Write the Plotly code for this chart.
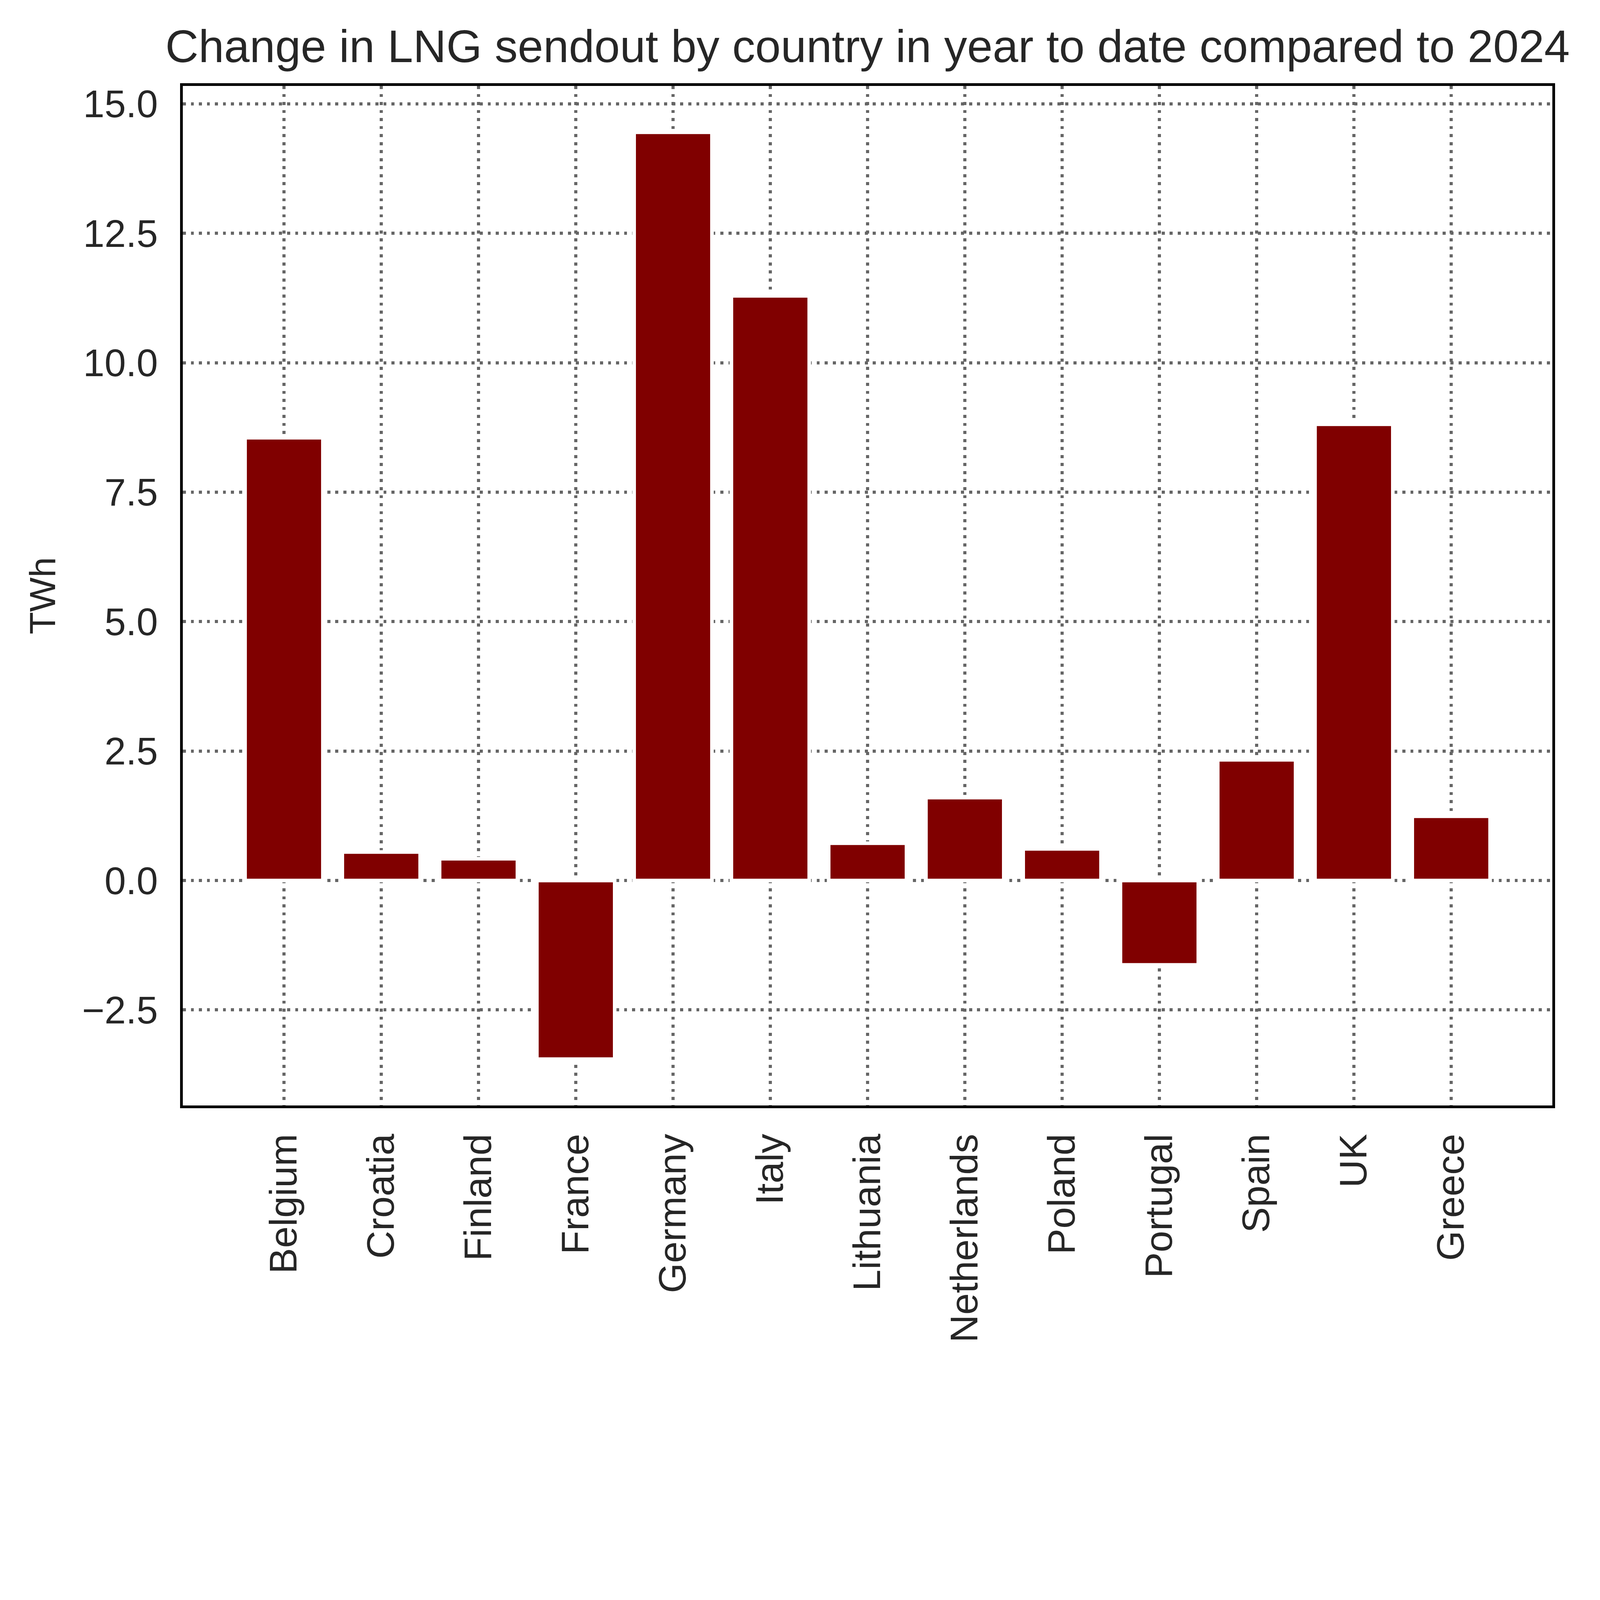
import plotly.graph_objects as go

countries = ["Belgium", "Croatia", "Finland", "France", "Germany", "Italy",
             "Lithuania", "Netherlands", "Poland", "Portugal", "Spain", "UK", "Greece"]
change_twh = [8.55, 0.55, 0.42, -3.45, 14.45, 11.29, 0.72, 1.60, 0.61, -1.63, 2.33, 8.81, 1.24]

y_tick_vals = [-2.5, 0.0, 2.5, 5.0, 7.5, 10.0, 12.5, 15.0]
y_tick_text = ["\u22122.5", "0.0", "2.5", "5.0", "7.5", "10.0", "12.5", "15.0"]

title_text = "Change in LNG sendout by country in year to date compared to 2024"
y_title = "TWh"

# The browser viewport is capped at 4096x4096, so the 5782x4947 design is scaled
# uniformly to fit inside it.
DESIGN_W, DESIGN_H = 5782, 4947
S = 4096 / DESIGN_W


def px(v):
    return v * S


def ipx(v):
    return int(round(v * S))


ymin, ymax = min(change_twh), max(change_twh)
span = ymax - ymin
y_range = [ymin - 0.05 * span, ymax + 0.05 * span]
n = len(countries)
x_span = (n - 1) + 0.8
x_range = [-0.4 - 0.05 * x_span, (n - 1) + 0.4 + 0.05 * x_span]

FONT = "Liberation Sans, Arial, Helvetica, sans-serif"
TXT = "#262626"

fig = go.Figure(go.Bar(
    x=countries, y=change_twh, width=0.8,
    marker=dict(color="#800000", line=dict(color="white", width=px(13))),
))

grid_common = dict(
    showgrid=True, gridcolor="#666666", gridwidth=px(11),
    griddash=f"{px(11):.2f}px,{px(18):.2f}px",
    showline=True, mirror=True, linecolor="black", linewidth=px(10),
    ticks="", zeroline=False,
)

fig.update_layout(
    width=ipx(DESIGN_W), height=ipx(DESIGN_H), autosize=False,
    margin=dict(l=px(661), r=px(172), t=px(310), b=px(952), pad=0),
    paper_bgcolor="white", plot_bgcolor="white",
    showlegend=False,
    font=dict(family=FONT, color=TXT, size=px(138)),
    title=dict(text=title_text, x=0.5, xref="paper", xanchor="center",
               y=1 - 166 / DESIGN_H, yref="container", yanchor="middle",
               font=dict(family=FONT, size=px(166), color=TXT)),
    xaxis=dict(type="category", range=x_range, tickangle=-90,
               tickfont=dict(family=FONT, size=px(140), color=TXT),
               ticklabelstandoff=ipx(37), **grid_common),
    yaxis=dict(range=y_range, tickvals=y_tick_vals, ticktext=y_tick_text,
               tickfont=dict(family=FONT, size=px(139), color=TXT),
               ticklabelstandoff=ipx(52),
               title=dict(text=y_title, standoff=ipx(57),
                          font=dict(family=FONT, size=px(132), color=TXT)),
               **grid_common),
)

fig.write_html("out.html", config={"displayModeBar": False},
               post_script="document.body.style.margin='0';document.body.style.padding='0';")
